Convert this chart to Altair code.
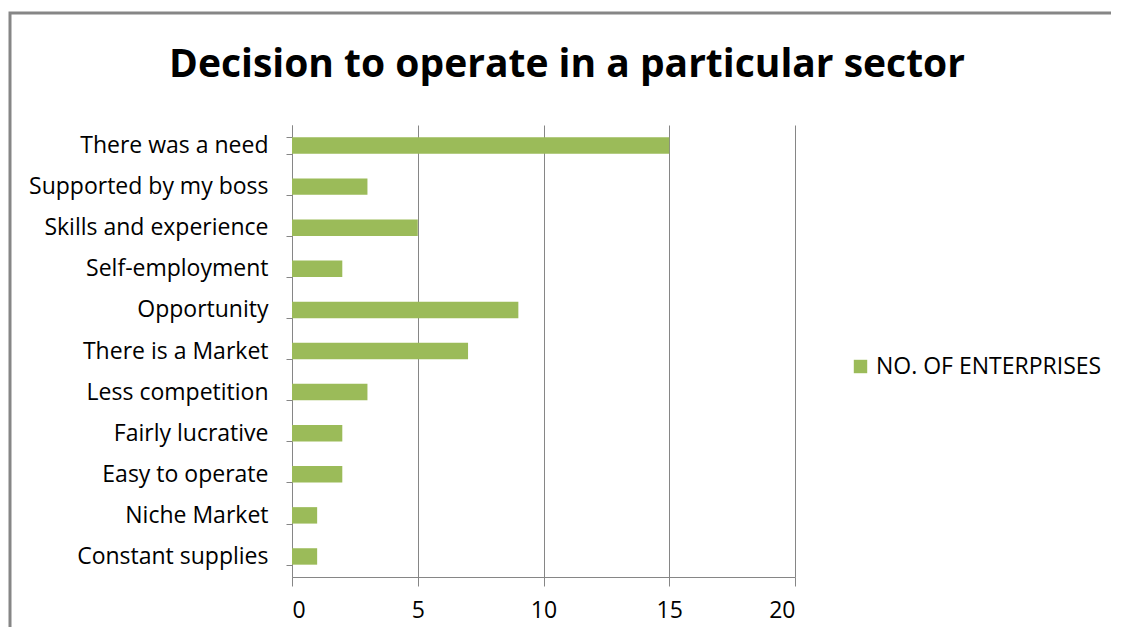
import altair as alt
import pandas as pd

categories = ["There was a need", "Supported by my boss", "Skills and experience",
              "Self-employment", "Opportunity", "There is a Market", "Less competition",
              "Fairly lucrative", "Easy to operate", "Niche Market", "Constant supplies"]
values = [15, 3, 5, 2, 9, 7, 3, 2, 2, 1, 1]
series = "NO. OF ENTERPRISES"
x_ticks = [0, 5, 10, 15, 20]
title_text = "Decision to operate in a particular sector"

df = pd.DataFrame({"cat": categories, "val": values, "series": [series] * len(categories)})

FONT = "Open Sans"
GRAY = "#868686"
FS = 23

bars = alt.Chart(df).mark_bar(color="#9BBB59").encode(
    y=alt.Y("cat:N", sort=categories,
            scale=alt.Scale(paddingInner=0.6, paddingOuter=0.3),
            axis=alt.Axis(title=None, tickBand="extent", tickSize=6, tickColor=GRAY,
                          domainColor=GRAY, labelFontSize=FS, labelFont=FONT,
                          labelColor="black", labelPadding=18, labelLimit=0, grid=False)),
    x=alt.X("val:Q", scale=alt.Scale(domain=[0, 20], nice=False),
            axis=alt.Axis(title=None, values=x_ticks, tickSize=9, tickColor=GRAY,
                          domainColor=GRAY, gridColor=GRAY, grid=True,
                          labelFontSize=FS, labelFont=FONT, labelColor="black",
                          labelPadding=13)),
    color=alt.Color("series:N", scale=alt.Scale(range=["#9BBB59"]),
                    legend=alt.Legend(title=None, orient="none", legendX=557, legendY=230,
                                      symbolType="square", symbolSize=180,
                                      symbolStrokeWidth=0, labelFontSize=FS, labelLimit=0,
                                      labelFont=FONT, labelColor="black")),
)

border = alt.Chart(df.head(1)).mark_rect(fill=None, stroke=GRAY, strokeWidth=3).encode(
    x=alt.value(-282), x2=alt.value(1000), y=alt.value(-112), y2=alt.value(700)
)

title = alt.Chart(pd.DataFrame({"t": [title_text]})).mark_text(
    font=FONT, fontSize=39, fontWeight="bold", color="black", align="center",
    baseline="middle"
).encode(text="t:N", x=alt.value(275), y=alt.value(-60))

chart = alt.layer(border, bars, title).properties(
    width=503, height=452,
    padding={"left": 284, "top": 117, "right": 316, "bottom": 50},
    autosize=alt.AutoSizeParams(type="none"),
).configure_view(stroke=None)

chart.save("out.html", embed_options={"renderer": "svg", "actions": False})
